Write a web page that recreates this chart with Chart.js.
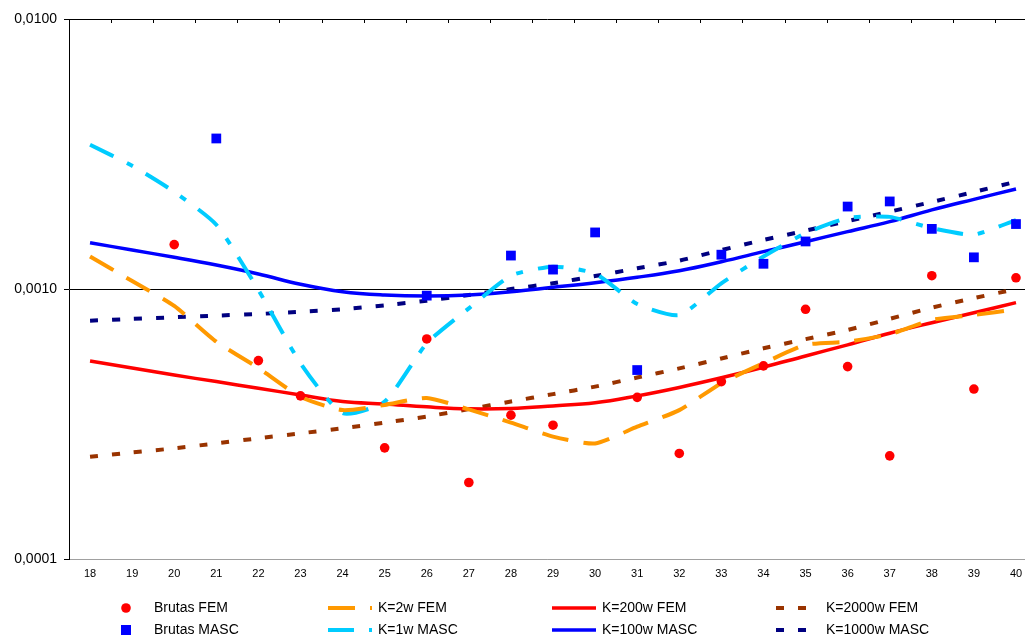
<!DOCTYPE html>
<html>
<head>
<meta charset="utf-8">
<script src="https://cdn.jsdelivr.net/npm/chart.js@4.4.0/dist/chart.umd.min.js"></script>
<style>
  html, body { margin: 0; padding: 0; background: #fff; }
  #wrap { position: relative; width: 1025px; height: 639px; }
</style>
</head>
<body>
<div id="wrap"><canvas id="chart"></canvas></div>
<script>
const categories = [18, 19, 20, 21, 22, 23, 24, 25, 26, 27, 28, 29, 30, 31, 32, 33, 34, 35, 36, 37, 38, 39, 40]
const yTickValues = [0.0001, 0.001, 0.01]
const yTickLabels = ["0,0001", "0,0010", "0,0100"]

// raw rates
const brutasFem = [null, null, 0.00146, null, 0.000543, 0.000402, null, 0.000258, 0.000653, 0.000192, 0.000341, 0.000313,
  null, 0.000397, 0.000246, 0.000454, 0.000519, 0.000841, 0.000516, 0.000241, 0.00112, 0.000426, 0.00110]
const brutasMasc = [null, null, null, 0.00361, null, null, null, null, 0.000945, null, 0.00133, 0.00118,
  0.00162, 0.000501, null, 0.00134, 0.00124, 0.00150, 0.00202, 0.00211, 0.00167, 0.00131, 0.00174]

// graduated series
const k2wFem = [0.00132, 0.00107, 0.000866, 0.000638, 0.000510, 0.000399, 0.000356, 0.000372, 0.000395, 0.000358, 0.000320, 0.000284,
  0.000268, 0.000309, 0.000356, 0.000448, 0.000531, 0.000621, 0.000638, 0.000680, 0.000768, 0.000801, 0.000841]
const k1wMasc = [0.00342, 0.00286, 0.00229, 0.00173, 0.000992, 0.000531, 0.000347, 0.000383, 0.000629, 0.000848, 0.00112, 0.00121,
  0.00114, 0.000880, 0.000801, 0.00105, 0.00132, 0.00161, 0.00183, 0.00185, 0.00168, 0.00159, 0.00180]
const k200wFem = [0.000541, 0.000510, 0.000480, 0.000454, 0.000429, 0.000405, 0.000383, 0.000375, 0.000366, 0.000360, 0.000361, 0.000369,
  0.000379, 0.000402, 0.000432, 0.000469, 0.000513, 0.000565, 0.000621, 0.000686, 0.000750, 0.000817, 0.000890]
const k100wMasc = [0.001484, 0.001394, 0.001311, 0.001227, 0.001137, 0.001041, 0.000977, 0.000950, 0.000942, 0.000950, 0.000977, 0.001015,
  0.001055, 0.001105, 0.001169, 0.001262, 0.001375, 0.001497, 0.001631, 0.001776, 0.001963, 0.002148, 0.002346]
const k2000wFem = [0.000239, 0.000248, 0.000257, 0.000268, 0.000280, 0.000292, 0.000305, 0.000320, 0.000337, 0.000359, 0.000383, 0.000408,
  0.000435, 0.000470, 0.000508, 0.000553, 0.000603, 0.000652, 0.000705, 0.000775, 0.000853, 0.000925, 0.000999]
const k1000wMasc = [0.000763, 0.000775, 0.000786, 0.000797, 0.000808, 0.000824, 0.000841, 0.000870, 0.000905, 0.000950, 0.00100, 0.00105,
  0.001117, 0.001193, 0.001273, 0.001394, 0.001519, 0.001644, 0.001785, 0.001933, 0.002101, 0.002287, 0.002497]

const pts = vals => categories.map((c, i) => ({ x: c, y: vals[i] }))

const lineSet = (label, vals, color, width, dash, tension) => ({
  label, data: pts(vals), borderColor: color, backgroundColor: color,
  borderWidth: width, borderDash: dash, borderCapStyle: "butt",
  tension, pointRadius: 0, pointHoverRadius: 0, fill: false, order: 2
})

const markerSet = (label, vals, color, style, radius) => ({
  label, data: pts(vals), showLine: false, pointStyle: style,
  pointRadius: radius, pointBorderWidth: 0, pointBackgroundColor: color,
  borderColor: color, backgroundColor: color, order: 1
})

const datasets = [
  markerSet("Brutas FEM", brutasFem, "#ff0000", "circle", 4.8),
  markerSet("Brutas MASC", brutasMasc, "#0000ff", "rect", 6.9),
  lineSet("K=2w FEM", k2wFem, "#ff9900", 4, [27, 15], 0.2),
  lineSet("K=1w MASC", k1wMasc, "#00ccff", 4, [26, 15, 7, 15], 0.2),
  lineSet("K=200w FEM", k200wFem, "#ff0000", 3.5, [], 0.4),
  lineSet("K=100w MASC", k100wMasc, "#0000ff", 3.5, [], 0.4),
  lineSet("K=2000w FEM", k2000wFem, "#993300", 4, [8, 14], 0.2),
  lineSet("K=1000w MASC", k1000wMasc, "#000080", 4, [8, 14], 0.2)
]

// legend grid: [row 1, row 2] per column, with column start x
const legendCols = [
  { x: 126, items: [0, 1] },
  { x: 328, items: [2, 3] },
  { x: 552, items: [4, 5] },
  { x: 776, items: [6, 7] }
]
const legendRows = [608, 630]
const sampleLength = 44

const framePlugin = {
  id: "frame",
  afterDatasetsDraw(chart) {
    const { ctx, chartArea, scales } = chart
    ctx.save()
    ctx.strokeStyle = "#000"
    ctx.lineWidth = 1
    ctx.beginPath()
    categories.forEach(c => {
      const px = Math.round(scales.x.getPixelForValue(c + 0.5)) + 0.5
      if (px < chartArea.right) {
        ctx.moveTo(px, chartArea.top)
        ctx.lineTo(px, chartArea.top + 4)
      }
    })
    ctx.stroke()
    ctx.restore()
  },
  afterDraw(chart) {
    const ctx = chart.ctx
    ctx.save()
    ctx.font = "14px 'Liberation Sans', Arial, sans-serif"
    ctx.textBaseline = "middle"
    ctx.fillStyle = "#000"
    legendCols.forEach((col, ci) => {
      col.items.forEach((di, ri) => {
        const ds = datasets[di]
        const y = legendRows[ri]
        if (ci === 0) {
          ctx.fillStyle = ds.pointBackgroundColor
          if (ds.pointStyle === "circle") {
            ctx.beginPath()
            ctx.arc(col.x, y, 4.8, 0, Math.PI * 2)
            ctx.fill()
          } else {
            ctx.fillRect(col.x - 5, y - 5, 10, 10)
          }
          ctx.fillStyle = "#000"
          ctx.fillText(ds.label, col.x + 28, y)
        } else {
          ctx.strokeStyle = ds.borderColor
          ctx.lineWidth = ds.borderWidth
          ctx.lineCap = "butt"
          ctx.setLineDash(ds.borderDash)
          ctx.beginPath()
          ctx.moveTo(col.x, y)
          ctx.lineTo(col.x + sampleLength, y)
          ctx.stroke()
          ctx.setLineDash([])
          ctx.fillStyle = "#000"
          ctx.fillText(ds.label, col.x + 50, y)
        }
      })
    })
    ctx.restore()
  }
}

new Chart(document.getElementById("chart"), {
  type: "line",
  data: { datasets },
  plugins: [framePlugin],
  options: {
    responsive: true,
    maintainAspectRatio: false,
    animation: false,
    events: [],
    layout: { autoPadding: false, padding: { top: 19, right: 0, left: 0, bottom: 0 } },
    plugins: {
      legend: { display: false },
      tooltip: { enabled: false }
    },
    scales: {
      x: {
        type: "linear",
        min: 17.5,
        max: 40.214,
        afterBuildTicks: scale => {
          scale.ticks = categories.map(v => ({ value: v }))
        },
        afterFit: scale => {
          scale.height = 80
          scale.paddingLeft = 0
          scale.paddingRight = 0
        },
        grid: { display: true, drawOnChartArea: false, drawTicks: false },
        border: { display: true, color: "#a0a0a0", width: 1 },
        ticks: {
          autoSkip: false,
          maxRotation: 0,
          padding: 8,
          color: "#000",
          font: { family: "'Liberation Sans', Arial, sans-serif", size: 11 },
          callback: v => String(v)
        }
      },
      y: {
        type: "logarithmic",
        min: 0.0001,
        max: 0.01,
        afterBuildTicks: scale => {
          scale.ticks = yTickValues.map(v => ({ value: v }))
        },
        afterFit: scale => {
          scale.width = 69
          scale.paddingTop = 0
          scale.paddingBottom = 0
        },
        grid: {
          color: c => (c.tick && c.tick.value === 0.0001 ? "#a0a0a0" : "#000"),
          tickColor: "#000",
          tickLength: 5,
          lineWidth: 1
        },
        border: { display: true, color: "#000", width: 1 },
        ticks: {
          padding: 7,
          color: "#000",
          font: { family: "'Liberation Sans', Arial, sans-serif", size: 14 },
          callback: (v, i) => yTickLabels[i]
        }
      }
    }
  }
})
</script>
</body>
</html>
